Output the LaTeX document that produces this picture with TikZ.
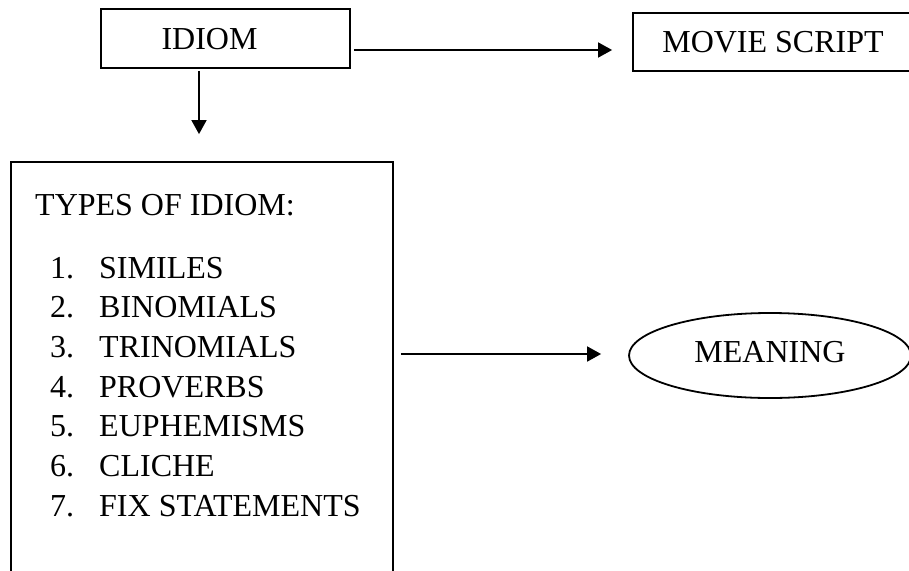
\documentclass[tikz,border=0pt]{standalone}
\usepackage{fontspec}
\setmainfont{Liberation Serif}
\usetikzlibrary{arrows.meta,shapes.geometric}
\begin{document}
\begin{tikzpicture}[x=1pt,y=1pt,
  font=\fontsize{32}{38}\selectfont,
  box/.style={draw,line width=1.8pt,inner sep=0pt},
  oval/.style={draw,ellipse,line width=1.8pt,inner sep=0pt},
  arr/.style={line width=1.8pt,-{Triangle[length=14pt,width=15pt]}},
  txt/.style={anchor=base west,inner sep=0pt}]
\clip (0,0) rectangle (909,-570);
% boxes
\node[box,minimum width=249pt,minimum height=59pt,
      label={[xshift=-16pt,yshift=-0.5pt]center:IDIOM}] (idiom) at (225.5,-38.5) {};
\node[box,minimum width=280pt,minimum height=58pt,
      label={[xshift=0pt,yshift=-0.5pt]center:MOVIE SCRIPT}] (movie) at (773,-42) {};
\node[box,minimum width=382pt,minimum height=438pt] (types) at (202,-381) {};
\node[oval,minimum width=282pt,minimum height=85pt,
      label={[yshift=3.5pt]center:MEANING}] (meaning) at (770,-355.5) {};
% list text
\node[txt] (head) at (35,-215.5) {TYPES OF IDIOM:};
\foreach \i/\t in {1/SIMILES,2/BINOMIALS,3/TRINOMIALS,4/PROVERBS,5/EUPHEMISMS,6/CLICHE,7/FIX STATEMENTS}{
  \node[txt] (n\i) at (50,{-278-39.67*(\i-1)}) {\i.};
  \node[txt] (t\i) at (99,{-278-39.67*(\i-1)}) {\t};
}
% connectors
\draw[arr] ([shift={(3pt,-11.5pt)}]idiom.east) -- ([shift={(-20pt,-8pt)}]movie.west);
\draw[arr] ([shift={(-26.5pt,-2pt)}]idiom.south) -- ([shift={(-3pt,27pt)}]types.north);
\draw[arr] ([shift={(7pt,27pt)}]types.east) -- ([shift={(-27pt,1.5pt)}]meaning.west);
\end{tikzpicture}
\end{document}
